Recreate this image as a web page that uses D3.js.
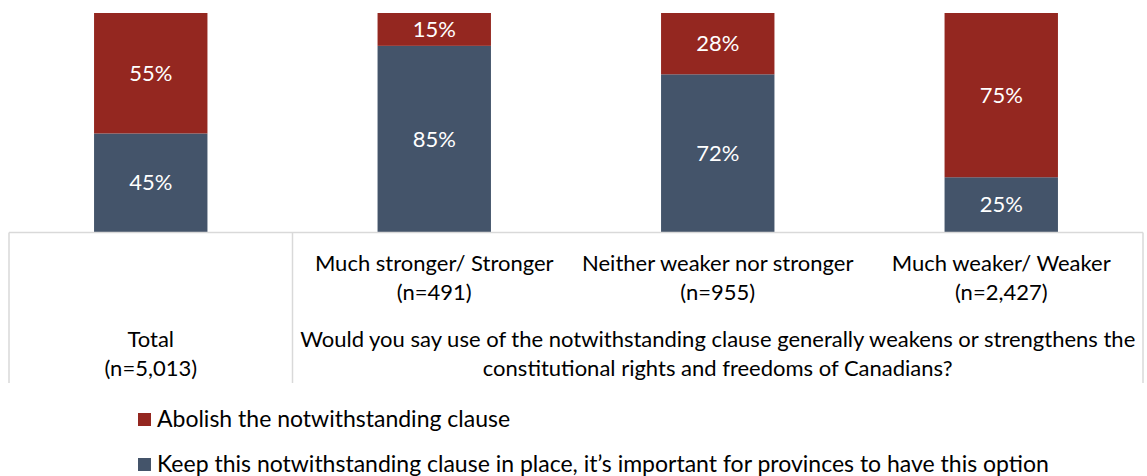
<!DOCTYPE html>
<html>
<head>
<meta charset="utf-8">
<script src="https://cdn.jsdelivr.net/npm/d3@7"></script>
<style>
  html, body { margin: 0; padding: 0; background: #fff; }
  svg { display: block; font-family: Lato, "Open Sans", sans-serif; }
</style>
</head>
<body>
<svg id="chart" width="1147" height="476"></svg>
<script>
// Groups along the x axis and their sample sizes
const categories = ["Total", "Much stronger/ Stronger", "Neither weaker nor stronger", "Much weaker/ Weaker"];
const sampleSizes = ["(n=5,013)", "(n=491)", "(n=955)", "(n=2,427)"];

// Share of respondents (%) per option, stacked bottom to top
const keepValues = [45, 85, 72, 25];
const abolishValues = [55, 15, 28, 75];

const seriesNames = [
  "Abolish the notwithstanding clause",
  "Keep this notwithstanding clause in place, it\u2019s important for provinces to have this option"
];
const questionLines = [
  "Would you say use of the notwithstanding clause generally weakens or strengthens the",
  "constitutional rights and freedoms of Canadians?"
];

const colors = { keep: "#44546A", abolish: "#942720" };

const svg = d3.select("#chart");
const tableLeft = 9, tableRight = 1143;
const plotTop = 13, plotBottom = 232;
const fontSize = 22;

const x = d3.scaleBand()
  .domain(categories)
  .range([tableLeft, tableRight])
  .paddingInner(0.6)
  .paddingOuter(0.3);

const y = d3.scaleLinear().domain([0, 100]).range([plotBottom, plotTop]);

const rows = categories.map((c, i) => ({ cat: c, keep: keepValues[i], abolish: abolishValues[i] }));
const stack = d3.stack().keys(["keep", "abolish"]);
const layers = stack(rows);

const g = svg.append("g");
layers.forEach(layer => {
  const grp = g.append("g").attr("fill", colors[layer.key]);
  grp.selectAll("rect")
    .data(layer)
    .join("rect")
    .attr("x", d => x(d.data.cat))
    .attr("width", x.bandwidth())
    .attr("y", d => y(d[1]))
    .attr("height", d => y(d[0]) - y(d[1]));
  grp.selectAll("text")
    .data(layer)
    .join("text")
    .attr("x", d => x(d.data.cat) + x.bandwidth() / 2)
    .attr("y", d => (y(d[0]) + y(d[1])) / 2)
    .attr("dy", "0.35em")
    .attr("text-anchor", "middle")
    .attr("fill", "#fff")
    .attr("font-size", fontSize)
    .text(d => (d[1] - d[0]) + "%");
});

// Category table under the bars
const lineColor = "#d9d9d9";
const tableTop = plotBottom + 0.5, tableBottom = 383;
const divider = x.step() + tableLeft;
const tbl = svg.append("g").attr("stroke", lineColor).attr("stroke-width", 1.5);
tbl.append("line").attr("x1", tableLeft).attr("x2", tableRight).attr("y1", tableTop).attr("y2", tableTop);
[tableLeft, divider, tableRight].forEach(xv => {
  tbl.append("line").attr("x1", xv).attr("x2", xv).attr("y1", tableTop).attr("y2", tableBottom);
});

const labels = svg.append("g").attr("fill", "#000").attr("font-size", fontSize).attr("text-anchor", "middle");
categories.forEach((c, i) => {
  const cx = x(c) + x.bandwidth() / 2;
  const base = i === 0 ? 347 : 271;
  labels.append("text").attr("x", cx).attr("y", base).text(c);
  labels.append("text").attr("x", cx).attr("y", base + 29).text(sampleSizes[i]);
});
const qx = (divider + tableRight) / 2;
questionLines.forEach((t, i) => {
  labels.append("text").attr("x", qx).attr("y", 347 + i * 29).text(t);
});

// Legend
const legend = svg.append("g").attr("font-size", 23);
const legendColors = [colors.abolish, colors.keep];
seriesNames.forEach((name, i) => {
  const ly = 413 + i * 45;
  legend.append("rect").attr("x", 138).attr("y", ly).attr("width", 13).attr("height", 13).attr("fill", legendColors[i]);
  legend.append("text").attr("x", 157).attr("y", ly + 14).attr("fill", "#000").text(name);
});
</script>
</body>
</html>
